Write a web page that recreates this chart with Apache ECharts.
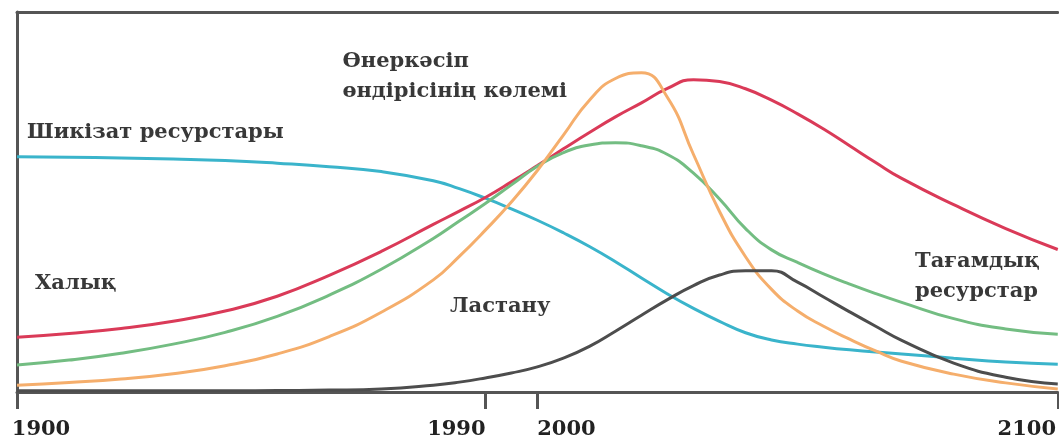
<!DOCTYPE html>
<html>
<head>
<meta charset="utf-8">
<script src="https://cdn.jsdelivr.net/npm/echarts@6/dist/echarts.min.js"></script>
<style>
html,body{margin:0;padding:0;background:#fff;}
#chart{width:1059px;height:440px;}
</style>
</head>
<body>
<div id="chart"></div>
<script>
// Tick labels on the time axis
const tickYears = [1900, 1990, 2000, 2100];

// Shared sampling years (10-year steps on the flat parts, 5-year steps in the middle)
const years = [1900,1910,1920,1930,1940,1950,1960,1970,1980,1985,1990,1995,2000,2005,2010,2015,2020,2025,2030,2035,2040,2045,2050,2055,2060,2065,2070,2080,2090,2100];

// Шикізат ресурстары (raw material resources)
const resourcesValues = [61.9,61.8,61.6,61.3,60.9,60.2,59.3,58.0,55.6,53.5,51.0,48.2,45.2,41.9,38.3,34.3,30.0,25.8,22.0,18.6,15.6,13.7,12.6,11.8,11.1,10.5,10.0,8.9,7.9,7.3];

// Халық (population)
const populationValues = [14.4,15.4,16.7,18.6,21.3,25.2,30.7,37.0,44.1,47.6,51.2,55.3,59.6,64.0,68.3,72.4,76.1,79.9,82.2,81.7,79.8,76.8,73.2,69.2,64.8,60.4,56.2,49.3,43.0,37.5];

// Тағамдық ресурстар (food resources)
const foodValues = [7.1,8.4,10.2,12.6,15.7,19.9,25.5,32.3,40.4,45.0,49.6,54.5,59.4,63.0,65.0,65.6,64.8,62.5,57.6,50.8,43.0,37.4,34.1,31.1,28.4,25.9,23.6,19.3,16.6,15.2];

// Өнеркәсіп өндірісінің көлемі (industrial output)
const industryValues = [1.8,2.5,3.4,4.8,6.9,10.0,14.6,21.0,29.5,35.7,42.6,50.0,58.3,67.6,76.8,82.5,84.0,77.5,62.5,47.5,35.6,27.0,21.3,17.3,13.9,10.8,8.1,4.7,2.4,0.8];

// Ластану (pollution)
const pollutionValues = [0.3,0.3,0.3,0.3,0.3,0.4,0.5,0.8,1.8,2.6,3.7,5.0,6.6,8.9,12.0,16.0,20.2,24.3,28.0,30.8,31.9,31.9,28.9,25.0,21.1,17.3,13.6,7.6,3.9,2.1];

const pairs = (xs, ys) => xs.map((x, i) => [x, ys[i]]);

const chart = echarts.init(document.getElementById('chart'), null, {renderer: 'canvas'});
const labelFont = '"DejaVu Serif", serif';
const annColor = '#383838';
const annFont = 'bold 21px ' + labelFont;

function line(name, values, color) {
  return {
    name, type: 'line', data: pairs(years, values), smooth: 0.5, showSymbol: false,
    lineStyle: {color, width: 3}, itemStyle: {color}, z: 3
  };
}

const tickRich = (pad) => ({color: '#222', fontFamily: labelFont, fontSize: 21, fontWeight: 'bold', padding: pad});

chart.setOption({
  animation: false,
  grid: {left: 17, right: 1, top: 12, bottom: 47, containLabel: false},
  xAxis: [{
    type: 'value', min: 1900, max: 2100, position: 'bottom',
    splitLine: {show: false},
    axisLine: {show: true, lineStyle: {color: '#555', width: 3}},
    axisTick: {show: true, customValues: tickYears, length: 17, lineStyle: {color: '#555', width: 3}},
    axisLabel: {
      show: true, customValues: tickYears, margin: 27,
      color: '#222', fontFamily: labelFont, fontSize: 21, fontWeight: 'bold',
      formatter: function (v) {
        if (v === 1990) return '{r|' + v + '}';
        if (v === 2000) return '{l|' + v + '}';
        if (v === 1900) return '{l0|' + v + '}';
        if (v === 2100) return '{r0|' + v + '}';
        return String(v);
      },
      rich: {
        r: tickRich([0, 58, 0, 0]),
        l: tickRich([0, 0, 0, 58]),
        l0: tickRich([0, 0, 0, 48]),
        r0: tickRich([0, 62, 0, 0])
      }
    }
  }, {
    type: 'value', min: 1900, max: 2100, position: 'top',
    splitLine: {show: false},
    axisLine: {show: true, onZero: false, lineStyle: {color: '#555', width: 3}},
    axisTick: {show: false}, axisLabel: {show: false}
  }],
  yAxis: {
    type: 'value', min: 0, max: 100,
    splitLine: {show: false},
    axisLine: {show: true, lineStyle: {color: '#555', width: 3}},
    axisTick: {show: false}, axisLabel: {show: false}
  },
  series: [
    line('Шикізат ресурстары', resourcesValues, '#3ab4cb'),
    line('Халық', populationValues, '#da3a58'),
    line('Тағамдық ресурстар', foodValues, '#73bd82'),
    line('Өнеркәсіп өндірісінің көлемі', industryValues, '#f5ae6c'),
    line('Ластану', pollutionValues, '#4d4d4d')
  ],
  graphic: [
    {type: 'text', left: 27, top: 122, style: {text: 'Шикізат ресурстары', fill: annColor, font: annFont}},
    {type: 'text', left: 35, top: 273, style: {text: 'Халық', fill: annColor, font: annFont}},
    {type: 'text', left: 450, top: 296, style: {text: 'Ластану', fill: annColor, font: annFont}},
    {type: 'text', right: 1059 - 567, top: 47, style: {text: 'Өнеркәсіп\nөндірісінің көлемі', fill: annColor, font: annFont, align: 'right', lineHeight: 30}},
    {type: 'text', left: 915, top: 247, style: {text: 'Тағамдық\nресурстар', fill: annColor, font: annFont, lineHeight: 30}}
  ]
});
</script>
</body>
</html>
